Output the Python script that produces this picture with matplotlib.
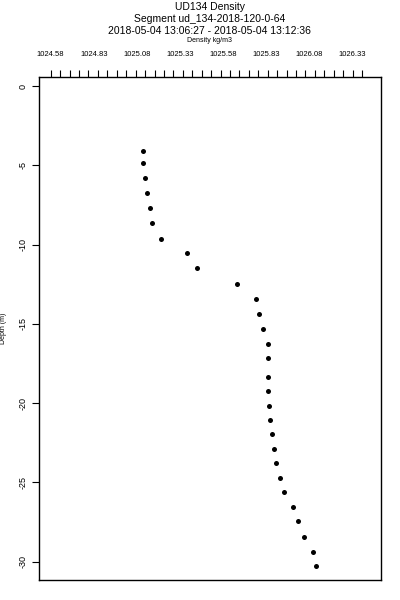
import matplotlib
matplotlib.use("Agg")
import matplotlib.pyplot as plt
import numpy as np

density = [1025.115, 1025.118, 1025.127, 1025.138, 1025.157, 1025.169, 1025.220,
           1025.371, 1025.429, 1025.665, 1025.774, 1025.789, 1025.814, 1025.845,
           1025.845, 1025.845, 1025.845, 1025.851, 1025.857, 1025.867, 1025.880,
           1025.890, 1025.915, 1025.936, 1025.990, 1026.020, 1026.054, 1026.103,
           1026.124]
depth = [-4.08, -4.87, -5.82, -6.73, -7.67, -8.64, -9.63, -10.51, -11.48, -12.48,
         -13.45, -14.36, -15.34, -16.27, -17.17, -18.37, -19.23, -20.18, -21.08,
         -21.96, -22.89, -23.79, -24.70, -25.58, -26.55, -27.45, -28.42, -29.38,
         -30.28]
x_tick_values = [1024.58, 1024.83, 1025.08, 1025.33, 1025.58, 1025.83, 1026.08, 1026.33]
x_tick_labels = ["1024.58", "1024.83", "1025.08", "1025.33", "1025.58", "1025.83", "1026.08", "1026.33"]
y_ticks = [0, -5, -10, -15, -20, -25, -30]

plt.rcParams['font.family'] = ['Liberation Sans', 'DejaVu Sans']
W, H = 400, 600
fig = plt.figure(figsize=(4, 6), dpi=100)
left, right, top, bottom = 38.5, 380.5, 77, 580
ax = fig.add_axes([left / W, 1 - bottom / H, (right - left) / W, (bottom - top) / H])

ax.plot(density, depth, 'o', color='black', markersize=3.6, markeredgewidth=0)

ax.set_xlim(1024.509, 1026.497)
ax.set_ylim(-31.15, 0.57)

for s in ax.spines.values():
    s.set_linewidth(1.0)

ax.xaxis.tick_top()
ax.xaxis.remove_overlapping_locs = False
ax.set_xticks(x_tick_values)
ax.set_xticklabels(x_tick_labels, fontsize=5.5)
minor = np.linspace(1024.58, 1026.39, 34)
ax.set_xticks(minor, minor=True)
ax.tick_params(axis='x', which='major', length=0, pad=14)
ax.tick_params(axis='x', which='minor', length=5, width=0.8, direction='out', pad=2)

ax.set_yticks(y_ticks)
ax.set_yticklabels([str(v) for v in y_ticks], fontsize=6.5, rotation=90, va='center')
ax.tick_params(axis='y', which='major', length=5, width=0.8, direction='out', pad=3)
ax.set_ylabel("Depth (m)", fontsize=5)
ax.yaxis.set_label_coords((7.5 - left) / (right - left), 0.5)

cx = ((left + right) / 2) / W
fig.text(cx, 1 - 7 / H, "UD134 Density", ha='center', va='center', fontsize=7.5)
fig.text(cx, 1 - 19 / H, "Segment ud_134-2018-120-0-64", ha='center', va='center', fontsize=7.5)
fig.text(cx, 1 - 30.5 / H, "2018-05-04 13:06:27 - 2018-05-04 13:12:36", ha='center', va='center', fontsize=7.5)
fig.text(cx, 1 - 40 / H, "Density kg/m3", ha='center', va='center', fontsize=5)

fig.savefig("out.png", dpi=100)
